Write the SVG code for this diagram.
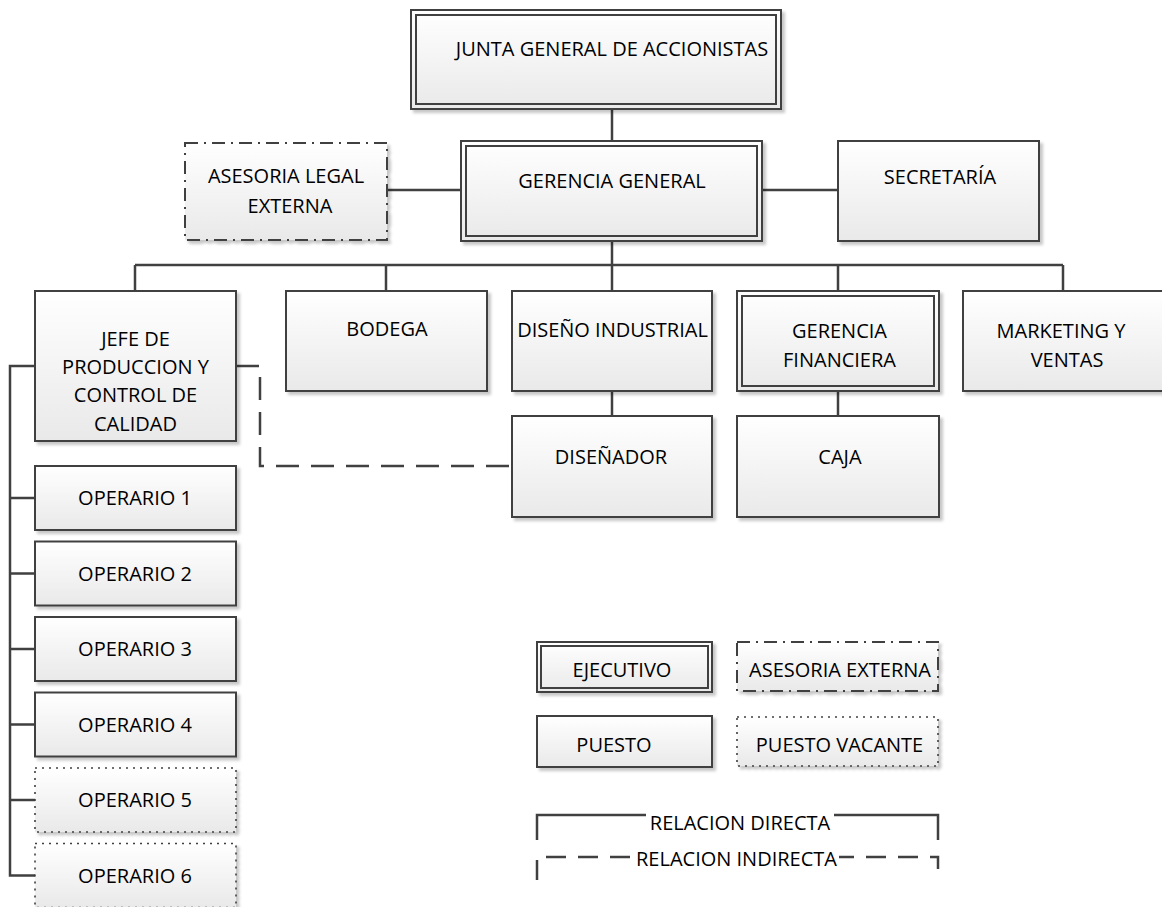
<svg xmlns="http://www.w3.org/2000/svg" width="1162" height="907" viewBox="0 0 1162 907">
  <defs>
    <linearGradient id="boxFill" x1="0" y1="0" x2="0" y2="1">
      <stop offset="0" stop-color="#ffffff"/>
      <stop offset="1" stop-color="#e9e9e9"/>
    </linearGradient>
    <filter id="shadow" x="-5%" y="-5%" width="115%" height="120%">
      <feDropShadow dx="3" dy="3" stdDeviation="1.8" flood-color="#000" flood-opacity="0.22"/>
    </filter>
  </defs>
  <style>
    .box { fill: url(#boxFill); stroke: #404040; stroke-width: 2; filter: url(#shadow); }
    .inner { fill: none; stroke: #404040; stroke-width: 2; }
    .dashdot { stroke-dasharray: 13 6 2 6; }
    .dotted { stroke-dasharray: 2 5; stroke-width: 1.6; }
    .lbl { font-family: "Open Sans", "Liberation Sans", sans-serif; font-size: 20px; text-anchor: middle; fill: #000; }
    .con { fill: none; stroke: #404040; stroke-width: 2.5; }
    .indirect { stroke-dasharray: 23 12; }
    .legdash { stroke-dasharray: 20 12; }
  </style>
  <rect width="1162" height="907" fill="#fff"/>

  <!-- connectors -->
  <g id="connectors">
    <path class="con" d="M612,109 V141"/>
    <path class="con" d="M387,190 H461"/>
    <path class="con" d="M762,190 H838"/>
    <path class="con" d="M612,241 V291"/>
    <path class="con" d="M135,265 H1063"/>
    <path class="con" d="M135,265 V291 M386,265 V291 M838,265 V291 M1063,265 V291"/>
    <path class="con" d="M612,391 V416"/>
    <path class="con" d="M838,391 V416"/>
    <path class="con" d="M35,366 H10 V875.5 H35 M10,498 H35 M10,573.5 H35 M10,649 H35 M10,724.5 H35 M10,800 H35"/>
    <path class="con indirect" d="M236,366 H260 V466 H512"/>
  </g>

  <g id="junta">
    <rect class="box" x="411" y="10" width="370" height="99"/>
    <rect class="inner" x="416" y="15" width="360" height="89"/>
    <text class="lbl" x="612" y="56">JUNTA GENERAL DE ACCIONISTAS</text>
  </g>
  <g id="gerencia-general">
    <rect class="box" x="461" y="141" width="301" height="100"/>
    <rect class="inner" x="466" y="146" width="291" height="90"/>
    <text class="lbl" x="612" y="187.5">GERENCIA GENERAL</text>
  </g>
  <g id="asesoria-legal">
    <rect class="box dashdot" x="185" y="143" width="202" height="97"/>
    <text class="lbl" x="286" y="183">ASESORIA LEGAL</text>
    <text class="lbl" x="290" y="213">EXTERNA</text>
  </g>
  <g id="secretaria">
    <rect class="box" x="838" y="141" width="201" height="100"/>
    <text class="lbl" x="940" y="184">SECRETARÍA</text>
  </g>

  <g id="jefe-produccion">
    <rect class="box" x="35" y="291" width="201" height="150"/>
    <text class="lbl" x="135.5" y="345.7">JEFE DE</text>
    <text class="lbl" x="135.5" y="374">PRODUCCION Y</text>
    <text class="lbl" x="135.5" y="402.3">CONTROL DE</text>
    <text class="lbl" x="135.5" y="430.7">CALIDAD</text>
  </g>
  <g id="bodega">
    <rect class="box" x="286" y="291" width="201" height="100"/>
    <text class="lbl" x="387" y="336">BODEGA</text>
  </g>
  <g id="diseno-industrial">
    <rect class="box" x="512" y="291" width="200" height="100"/>
    <text class="lbl" x="612.5" y="337">DISEÑO INDUSTRIAL</text>
  </g>
  <g id="gerencia-financiera">
    <rect class="box" x="737" y="291" width="202" height="100"/>
    <rect class="inner" x="742" y="296" width="192" height="90"/>
    <text class="lbl" x="839.5" y="337.5">GERENCIA</text>
    <text class="lbl" x="839.5" y="366.7">FINANCIERA</text>
  </g>
  <g id="marketing">
    <rect class="box" x="963" y="291" width="200" height="100"/>
    <text class="lbl" x="1061" y="337.5">MARKETING Y</text>
    <text class="lbl" x="1067" y="366.7">VENTAS</text>
  </g>
  <g id="disenador">
    <rect class="box" x="512" y="416" width="200" height="101"/>
    <text class="lbl" x="611" y="464">DISEÑADOR</text>
  </g>
  <g id="caja">
    <rect class="box" x="737" y="416" width="202" height="101"/>
    <text class="lbl" x="840" y="464">CAJA</text>
  </g>

  <g id="operario-1">
    <rect class="box" x="35" y="466" width="201" height="64"/>
    <text class="lbl" x="135" y="505">OPERARIO 1</text>
  </g>
  <g id="operario-2">
    <rect class="box" x="35" y="541.5" width="201" height="64"/>
    <text class="lbl" x="135" y="580.5">OPERARIO 2</text>
  </g>
  <g id="operario-3">
    <rect class="box" x="35" y="617" width="201" height="64"/>
    <text class="lbl" x="135" y="656">OPERARIO 3</text>
  </g>
  <g id="operario-4">
    <rect class="box" x="35" y="692.5" width="201" height="64"/>
    <text class="lbl" x="135" y="731.5">OPERARIO 4</text>
  </g>
  <g id="operario-5">
    <rect class="box dotted" x="35" y="768" width="201" height="64"/>
    <text class="lbl" x="135" y="807">OPERARIO 5</text>
  </g>
  <g id="operario-6">
    <rect class="box dotted" x="35" y="843.5" width="201" height="64"/>
    <text class="lbl" x="135" y="882.5">OPERARIO 6</text>
  </g>

  <!-- legend -->
  <g id="legend-ejecutivo">
    <rect class="box" x="537" y="642" width="175" height="50"/>
    <rect class="inner" x="541" y="646" width="167" height="42"/>
    <text class="lbl" x="622" y="676.7">EJECUTIVO</text>
  </g>
  <g id="legend-asesoria">
    <rect class="box dashdot" x="737" y="642" width="201" height="49"/>
    <text class="lbl" x="840" y="676.7">ASESORIA EXTERNA</text>
  </g>
  <g id="legend-puesto">
    <rect class="box" x="537" y="716" width="175" height="51"/>
    <text class="lbl" x="614" y="751.7">PUESTO</text>
  </g>
  <g id="legend-vacante">
    <rect class="box dotted" x="737" y="717" width="201" height="49"/>
    <text class="lbl" x="839.5" y="751.7">PUESTO VACANTE</text>
  </g>
  <g id="legend-directa">
    <path class="con" d="M537,840 V815 H646 M834,815 H938 V840"/>
    <text class="lbl" x="740" y="830">RELACION DIRECTA</text>
  </g>
  <g id="legend-indirecta">
    <path class="con legdash" d="M537,880 V857 H938 V880"/>
    <rect x="634" y="845" width="205" height="24" fill="#fff"/>
    <text class="lbl" x="736.5" y="866">RELACION INDIRECTA</text>
  </g>
</svg>
